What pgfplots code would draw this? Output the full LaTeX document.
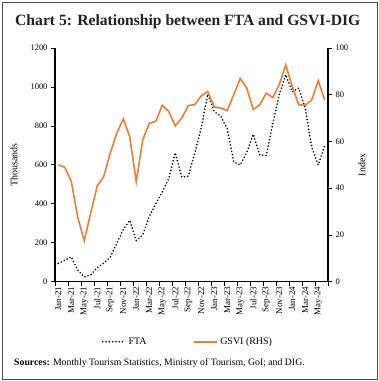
\documentclass[border=0pt]{standalone}
\usepackage{fontspec}
\setmainfont{Liberation Serif}
\usepackage{pgfplots}
\usepackage{pgfplotstable}
\pgfplotsset{compat=1.18}
\definecolor{gsvi}{HTML}{ED7D31}
\definecolor{titlec}{HTML}{231F20}

\pgfplotstableread{
i fta gsvi
0 94 50
1 110 49
2 128 43
3 60 27.5
4 24 17.5
5 36 29.5
6 72 41
7 95 45
8 126 55
9 195 63.5
10 268 69.7
11 315 62
12 211 42.8
13 240 60.7
14 335 67.8
15 400 68.6
16 460 75.5
17 530 72.8
18 662 66.7
19 537 70
20 542 75.3
21 660 75.8
22 790 79.5
23 963 81.4
24 874 74.8
25 850 74.3
26 785 73.2
27 615 80
28 600 87
29 665 82.9
30 757 73.7
31 650 75.7
32 648 80.7
33 810 78.8
34 960 84.3
35 1063 92.8
36 975 83.5
37 994 75.7
38 891 75.5
39 690 77.8
40 600 86
41 700 77.7
}\datatable

\tikzset{ftastyle/.style={black, line width=1.8bp, dash pattern=on 0bp off 3.3bp, line cap=round}}

\pgfplotsset{
  common/.style={
    at={(55bp,-281.7bp)}, anchor=south west,
    scale only axis, width=273bp, height=233.7bp,
    xmin=-0.5, xmax=41.5,
    axis line style={line width=1.3bp, -},
    tick align=outside,
    major tick length=4bp,
    tick style={line width=0.8bp, black},
    /pgf/number format/assume math mode=true,
    /pgf/number format/1000 sep={},
    tick label style={font=\fontsize{8.5}{10}\selectfont},
    label style={font=\fontsize{10}{12}\selectfont},
  }
}

\begin{document}
\begin{tikzpicture}
\path[use as bounding box] (0,0) rectangle (379bp,-381bp);
\draw[gray!60!black, line width=1bp] (2bp,-2bp) rectangle (377bp,-379bp);
\node[anchor=base west, font=\fontsize{15.7}{18}\selectfont\bfseries, text=titlec, inner sep=0] at (15bp,-25bp) {Chart 5: Relationship between FTA and GSVI-DIG};

\begin{axis}[
  common,
  ymin=0, ymax=1200,
  axis y line*=left, axis x line*=bottom,
  ytick={0,200,...,1200},
  xtick={-0.5,1.5,...,41.5},
  xticklabels={},
  extra x ticks={0,2,...,40},
  extra x tick labels={Jan-21,Mar-21,May-21,Jul-21,Sep-21,Nov-21,Jan-22,Mar-22,May-22,Jul-22,Sep-22,Nov-22,Jan-23,Mar-23,May-23,Jul-23,Sep-23,Nov-23,Jan-24,Mar-24,May-24},
  extra x tick style={major tick length=0bp, tick label style={rotate=90, anchor=east, font=\fontsize{9}{10}\selectfont, xshift=-1.5bp}},
  ylabel={Thousands},
  ylabel style={at={(axis description cs:-0.150,0.5)}, anchor=center, rotate=0},
]
\addplot[ftastyle] table[x=i, y=fta] {\datatable};
\end{axis}

\begin{axis}[
  common,
  ymin=0, ymax=100,
  axis y line*=right, axis x line=none,
  ytick={0,20,...,100},
  ylabel={Index},
  ylabel style={at={(axis description cs:1.1245,0.5)}, anchor=center, rotate=0},
  legend columns=2,
  legend style={draw=none, fill=none, at={(0.487,-0.257)}, anchor=center,
    font=\fontsize{10}{12}\selectfont,
    /tikz/every even column/.append style={column sep=45bp}},
  legend image code/.code={\draw[#1] (0bp,0bp) -- (23bp,0bp);},
]
\addlegendimage{ftastyle}
\addlegendentry{FTA}
\addplot[gsvi, line width=1.6bp] table[x=i, y=gsvi] {\datatable};
\addlegendentry{GSVI (RHS)}
\end{axis}

\node[anchor=base west, font=\fontsize{9.8}{11}\selectfont, inner sep=0] at (14bp,-365bp) {\textbf{Sources:} Monthly Tourism Statistics, Ministry of Tourism, GoI; and DIG.};
\end{tikzpicture}
\end{document}
